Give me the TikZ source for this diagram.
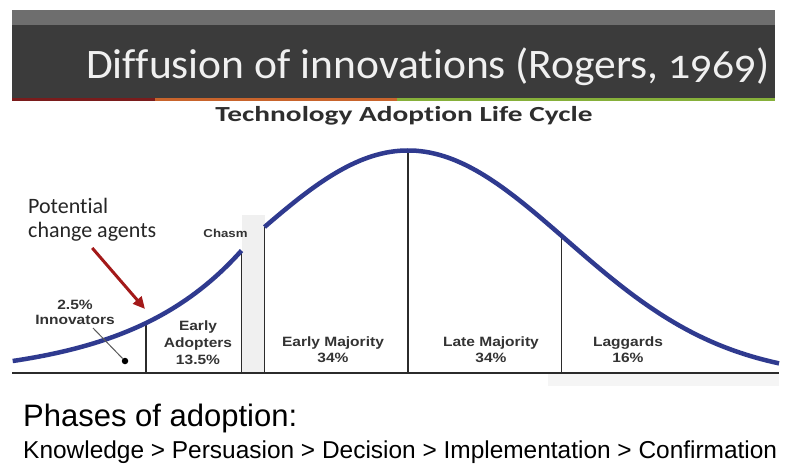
\documentclass[tikz,border=0pt]{standalone}
\usepackage{fontspec}
\usepackage{graphicx}
\usetikzlibrary{arrows.meta}
\setmainfont{Liberation Sans}
\newfontfamily\calfont[Ligatures=NoCommon]{Carlito}
\newfontfamily\titlefont[Numbers=OldStyle,Ligatures=NoCommon]{Carlito}
\newfontfamily\lblfont[FakeStretch=1.15]{Liberation Sans}
\definecolor{bandtop}{HTML}{6E6E6E}
\definecolor{banddark}{HTML}{3B3B3B}
\definecolor{barred}{HTML}{7A1C1C}
\definecolor{barorange}{HTML}{C8642C}
\definecolor{bargreen}{HTML}{86B03A}
\definecolor{titlewhite}{HTML}{F0F0F0}
\definecolor{subgray}{HTML}{2E2E2E}
\definecolor{lblgray}{HTML}{333333}
\definecolor{divgray}{HTML}{2B2B2B}
\definecolor{curveblue}{HTML}{2F3A8F}
\definecolor{arrowred}{HTML}{A31919}
\definecolor{chasmgray}{HTML}{F0F0F0}
\definecolor{stripgray}{HTML}{F5F5F5}
\begin{document}
\begin{tikzpicture}[x=1pt,y=-1pt,
  lbl/.style={font=\lblfont\bfseries\fontsize{13.5}{16}\selectfont, text=lblgray, align=center, inner sep=0pt},
  divider/.style={draw=divgray, line width=1.3pt},
  curve/.style={draw=curveblue, line width=4.5pt},
  redarrow/.style={draw=arrowred, line width=3pt, -{Triangle[length=12pt,width=11pt]}},
  leader/.style={draw=black!65, line width=1pt},
]
\useasboundingbox (0,0) rectangle (785,468);
\fill[white] (0,0) rectangle (785,468);
% header band
\fill[bandtop] (12,10) rectangle (775,25);
\fill[banddark] (12,25) rectangle (775,98);
\fill[barred] (12,98) rectangle (155,101.5);
\fill[barorange] (155,98) rectangle (397,101.5);
\fill[bargreen] (397,98) rectangle (775,101.5);
\node[anchor=base west, inner sep=0pt, text=titlewhite] (title) at (86,79)
  {\resizebox{684pt}{\height}{\titlefont\fontsize{42}{44}\selectfont Diffusion of innovations (Rogers, 1969)}};
\node[anchor=base, inner sep=0pt, text=subgray] (subtitle) at (404,122)
  {\resizebox{377pt}{\height}{\calfont\bfseries\fontsize{21.5}{24}\selectfont Technology Adoption Life Cycle}};
% chasm and strip
\fill[chasmgray] (241.5,215) rectangle (264.5,373);
\fill[stripgray] (548,374) rectangle (779,386);
% baseline and dividers
\draw[draw=divgray, line width=1.5pt] (12,373) -- (779,373);
\draw[divider] (146,373) -- (146,323);
\draw[divider] (241.5,373) -- (241.5,251);
\draw[divider] (264.5,373) -- (264.5,227);
\draw[divider] (408,373) -- (408,151);
\draw[divider] (561.7,373) -- (561.7,236);
% curve
\draw[curve] plot[domain=12.7:241.5, samples=60] (\x, {378-15.2*exp(0.0088*\x)});
\draw[curve] plot[domain=264.5:779, samples=120] (\x, {378-227.5*exp(-0.5*((\x-408)/158.4)^2)});
% labels
\node[lbl, font=\lblfont\bfseries\fontsize{13.5}{15}\selectfont] (innov) at (75,312) {2.5\%\\Innovators};
\node[lbl, font=\lblfont\bfseries\fontsize{13.5}{17}\selectfont] (early) at (198,343) {Early\\Adopters\\13.5\%};
\node[lbl, font=\lblfont\bfseries\fontsize{11.5}{13}\selectfont] (chasm) at (225.5,233) {Chasm};
\node[lbl] (emaj) at (333,350) {Early Majority\\34\%};
\node[lbl] (lmaj) at (491,350) {Late Majority\\34\%};
\node[lbl] (lag) at (628,350) {Laggards\\16\%};
% innovators leader and dot
\node[circle, fill=black, inner sep=0pt, minimum size=6.5pt] (dot) at (125,361) {};
\coordinate (lead) at (93,328);
\draw[leader] (lead) -- (dot);
% potential change agents
\node[anchor=base west, inner sep=0pt, text=black!85, font=\calfont\fontsize{22}{24}\selectfont] (potential) at (28,213) {Potential};
\node[anchor=base west, inner sep=0pt, text=black!85, font=\calfont\fontsize{22}{24}\selectfont] (agents) at (28,237) {change agents};
\coordinate (tip) at (145,309);
\draw[redarrow] ([yshift=-7pt]agents.south) -- (tip);
% bottom text
\node[anchor=base west, inner sep=0pt, text=black] (phases) at (23,426)
  {\resizebox{274pt}{!}{Phases of adoption:}};
\node[anchor=base west, inner sep=0pt, text=black] (steps) at (23,458)
  {\resizebox{754pt}{!}{Knowledge > Persuasion > Decision > Implementation > Confirmation}};
\end{tikzpicture}
\end{document}
